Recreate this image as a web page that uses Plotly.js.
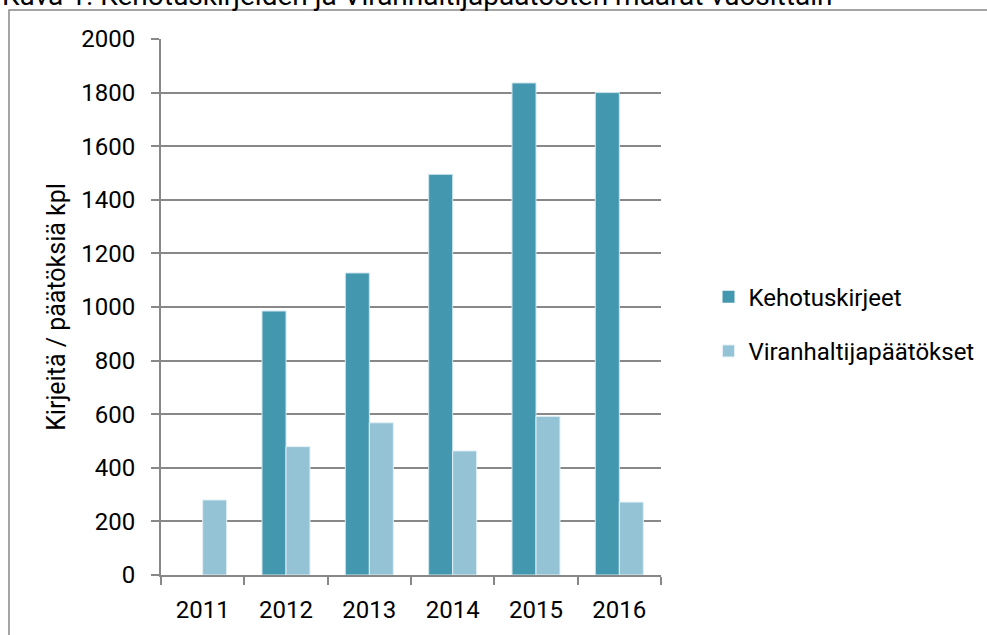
<!DOCTYPE html>
<html>
<head>
<meta charset="utf-8">
<script src="https://cdn.plot.ly/plotly-3.0.1.min.js"></script>
<style>html,body{margin:0;padding:0;background:#fff;}#chart{width:987px;height:635px;}</style>
</head>
<body>
<div id="chart"></div>
<script>
const years = ["2011", "2012", "2013", "2014", "2015", "2016"];
const kehotuskirjeet = [0, 985, 1127, 1495, 1836, 1800];
const viranhaltijapaatokset = [280, 479, 568, 463, 592, 272];
const seriesNames = ["Kehotuskirjeet", "Viranhaltijapäätökset"];
const yTicks = [0, 200, 400, 600, 800, 1000, 1200, 1400, 1600, 1800, 2000];
const titleText = "Kuva 1. Kehotuskirjeiden ja Viranhaltijapäätösten määrät vuosittain";
const yTitle = "Kirjeitä / päätöksiä kpl";

const FONT = "Roboto, 'Open Sans', sans-serif";
const traces = [
  {type: "bar", x: years, y: kehotuskirjeet, name: seriesNames[0], legendgroup: "a",
   marker: {color: "#4398B0", line: {color: "#cfe6ee", width: kehotuskirjeet.map(v => v > 0 ? 1 : 0)}}},
  {type: "bar", x: years, y: viranhaltijapaatokset, name: seriesNames[1], legendgroup: "b",
   marker: {color: "#93C3D4", line: {color: "#e2f0f5", width: 1}}}
];
const layout = {
  width: 987, height: 635,
  margin: {l: 161, r: 326, t: 39, b: 60, autoexpand: false},
  paper_bgcolor: "#fff", plot_bgcolor: "#fff",
  font: {family: FONT, size: 24, color: "#000"},
  barmode: "group", bargap: 0.424, bargroupgap: 0,
  showlegend: true,
  legend: {x: 1.095, xanchor: "left", y: 0.468, yanchor: "middle",
           font: {family: FONT, size: 24, color: "#000"}, tracegroupgap: 20,
           bgcolor: "rgba(0,0,0,0)"},
  xaxis: {type: "category", showline: true, linecolor: "#888", linewidth: 2,
          ticks: "outside", tickson: "boundaries", ticklen: 8, tickcolor: "#888", tickwidth: 2,
          showgrid: false, ticklabelstandoff: 12, tickfont: {size: 24}},
  yaxis: {range: [0, 2000], tickvals: yTicks, ticktext: yTicks.map(String),
          showline: true, linecolor: "#888", linewidth: 2,
          ticks: "outside", ticklen: 8, tickcolor: "#888", tickwidth: 2,
          showgrid: true, gridcolor: "#888", gridwidth: 2, zeroline: false,
          ticklabelstandoff: 11, tickfont: {size: 24},
          title: {text: yTitle, font: {size: 25}, standoff: 8}},
  annotations: [
    {text: titleText, xref: "paper", yref: "paper", x: -0.322, y: 1.081,
     xanchor: "left", yanchor: "middle", showarrow: false,
     font: {family: FONT, size: 28, color: "#000"}}
  ],
  shapes: [
    {type: "rect", xref: "paper", yref: "paper", x0: -0.304, x1: 1.7, y0: -0.13, y1: 1.054,
     line: {color: "#888", width: 1.5}, fillcolor: "rgba(0,0,0,0)", layer: "below"}
  ]
};
Plotly.newPlot("chart", traces, layout, {displayModeBar: false, staticPlot: true});
</script>
</body>
</html>
